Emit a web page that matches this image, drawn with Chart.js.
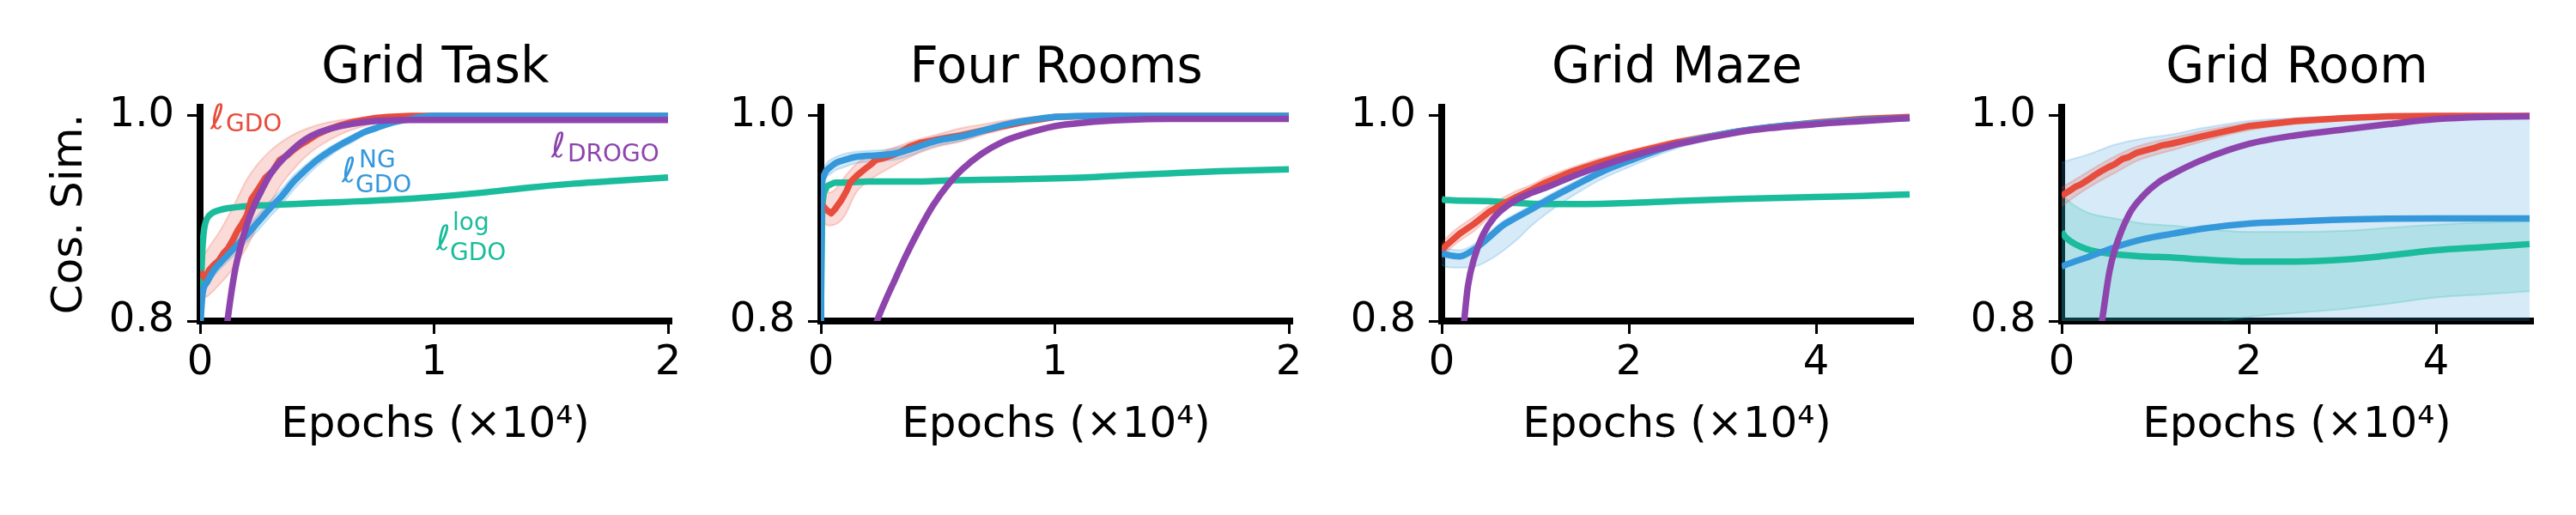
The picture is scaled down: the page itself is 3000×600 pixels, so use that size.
<!DOCTYPE html>
<html><head><meta charset="utf-8">
<script src="https://cdn.jsdelivr.net/npm/chart.js@4/dist/chart.umd.min.js"></script>
<style>
html,body{margin:0;padding:0;background:#fff;width:3000px;height:600px;overflow:hidden}
.p{position:absolute;top:0;width:800px;height:600px}
</style></head><body>
<div class="p" style="left:0px"><canvas id="c0" width="800" height="600"></canvas></div>
<div class="p" style="left:723px"><canvas id="c1" width="800" height="600"></canvas></div>
<div class="p" style="left:1446px"><canvas id="c2" width="800" height="600"></canvas></div>
<div class="p" style="left:2168px"><canvas id="c3" width="800" height="600"></canvas></div>
<script>
// ---------- tick labels ----------
const yTicks = [0.8, 1.0];
const shortXTicks = [0, 1, 2];
const longXTicks = [0, 2, 4];
const titles = ['Grid Task', 'Four Rooms', 'Grid Maze', 'Grid Room'];

// ---------- Grid Task ----------
const gtGdoX = [0, .02, .04, .06, .08, .10, .12, .14, .16, .18, .20, .22, .25, .28, .31, .34, .37, .40, .43, .46, .50, .55, .60, .65, .70, .75, .80, .90, 1.0, 1.2, 1.5, 2.0];
const gtGdoY = [.848, .842, .850, .855, .859, .866, .871, .879, .888, .895, .903, .919, .929, .940, .946, .957, .961, .967, .972, .976, .982, .987, .991, .994, .996, .998, .999, 1.0, 1.0, 1.0, 1.0, 1.0];
const gtGdoBandX = [0, .02, .05, .08, .12, .16, .20, .25, .30, .35, .40, .45, .50, .60, .70, .80, .90, 1.0, 1.2, 2.0];
const gtGdoHi = [.862, .866, .876, .886, .902, .920, .938, .954, .966, .975, .982, .987, .991, .996, .998, .9995, 1.0, 1.0, 1.0, 1.0];
const gtGdoLo = [.826, .823, .828, .835, .845, .858, .872, .895, .915, .934, .948, .960, .969, .982, .990, .995, .998, 1.0, 1.0, 1.0];
const gtNgX = [0, .01, .03, .06, .10, .15, .20, .25, .30, .35, .40, .45, .50, .55, .60, .65, .70, .75, .80, .85, .90, .95, 1.0, 1.2, 2.0];
const gtNgY = [.79, .825, .838, .850, .860, .872, .884, .897, .910, .922, .936, .947, .957, .965, .972, .978, .984, .988, .992, .995, .997, .999, 1.0, 1.0, 1.0];
const gtNgHi = [.80, .830, .843, .856, .866, .878, .891, .904, .917, .929, .942, .952, .961, .969, .975, .981, .986, .990, .993, .996, .998, .9995, 1.0, 1.0, 1.0];
const gtNgLo = [.78, .820, .833, .844, .854, .865, .877, .889, .902, .914, .928, .940, .951, .960, .968, .974, .981, .986, .990, .994, .996, .998, 1.0, 1.0, 1.0];
const gtDrogoX = [.10, .117, .13, .15, .17, .20, .23, .26, .30, .35, .40, .45, .50, .60, .70, .80, .90, 1.0, 1.5, 2.0];
const gtDrogoY = [.77, .80, .822, .850, .870, .894, .912, .926, .943, .957, .968, .977, .983, .990, .994, .9955, .996, .996, .996, .996];
const gtLogX = [0, .005, .01, .015, .02, .03, .05, .08, .12, .2, .3, .4, .6, .8, 1.0, 1.2, 1.4, 1.6, 1.8, 2.0];
const gtLogY = [.80, .84, .870, .885, .893, .900, .905, .908, .910, .912, .913, .914, .916, .918, .921, .925, .930, .934, .937, .940];

// ---------- Four Rooms ----------
const frGdoX = [0, .01, .026, .044, .06, .088, .11, .125, .15, .187, .21, .235, .27, .31, .35, .38, .43, .5, .6, .7, .78, .87, .95, 1.0, 1.2, 2.0];
const frGdoY = [.915, .912, .908, .905, .909, .918, .927, .935, .941, .948, .952, .957, .959, .962, .966, .970, .974, .977, .981, .986, .990, .994, .997, .999, 1.0, 1.0];
const frGdoBandX = [0, .03, .06, .1, .15, .2, .3, .4, .5, .6, .7, .8, .9, 1.0, 1.2, 2.0];
const frGdoHi = [.93, .925, .928, .940, .953, .960, .968, .976, .982, .988, .992, .996, .999, 1.0, 1.0, 1.0];
const frGdoLo = [.90, .893, .894, .902, .925, .936, .950, .962, .970, .975, .982, .988, .994, .998, 1.0, 1.0];
const frNgX = [0, .003, .01, .022, .04, .063, .1, .15, .2, .27, .33, .39, .455, .5, .6, .7, .78, .87, .954, 1.0, 1.2, 2.0];
const frNgY = [.80, .92, .940, .946, .950, .954, .957, .960, .961, .962, .964, .968, .973, .976, .980, .986, .991, .995, .998, .999, 1.0, 1.0];
const frNgHi = [.80, .926, .946, .953, .957, .960, .963, .965, .966, .967, .969, .973, .977, .980, .984, .989, .993, .996, .999, 1.0, 1.0, 1.0];
const frNgLo = [.80, .914, .934, .940, .943, .947, .950, .954, .955, .956, .958, .962, .968, .971, .976, .983, .988, .993, .997, .998, 1.0, 1.0];
const frDrogoX = [.2, .24, .28, .316, .36, .42, .48, .547, .6, .687, .78, .866, 1.0, 1.13, 1.3, 1.49, 1.7, 2.0];
const frDrogoY = [.77, .80, .822, .84, .862, .889, .913, .934, .947, .963, .975, .982, .990, .9935, .996, .997, .997, .997];
const frLogX = [0, .005, .01, .02, .026, .04, .063, .1, .2, .43, .547, .8, 1.13, 1.3, 1.49, 1.7, 2.0];
const frLogY = [.80, .90, .92, .928, .931, .933, .935, .935, .936, .936, .937, .938, .940, .942, .944, .946, .948];

// ---------- Grid Maze ----------
const gmGdoX = [0, .04, .19, .35, .5, .65, .8, .96, 1.11, 1.4, 1.7, 2.0, 2.5, 3.17, 3.5, 4.0, 4.5, 5.0];
const gmGdoY = [.868, .873, .885, .895, .906, .914, .921, .928, .935, .946, .955, .963, .974, .985, .989, .9935, .997, .999];
const gmGdoHi = [.875, .880, .892, .902, .912, .920, .927, .933, .940, .950, .959, .966, .977, .987, .991, .995, .998, 1.0];
const gmGdoLo = [.861, .866, .878, .888, .900, .908, .915, .923, .930, .942, .951, .960, .971, .983, .987, .992, .996, .998];
const gmNgX = [0, .04, .19, .35, .5, .65, .8, .96, 1.11, 1.4, 1.7, 2.0, 2.5, 3.17, 3.5, 4.0, 4.5, 5.0];
const gmNgY = [.866, .865, .863, .870, .881, .893, .901, .909, .917, .931, .945, .956, .972, .985, .989, .993, .996, .998];
const gmNgHi = [.872, .871, .869, .875, .886, .897, .905, .913, .921, .935, .948, .959, .974, .987, .990, .994, .997, .999];
const gmNgLo = [.855, .853, .852, .853, .859, .868, .879, .893, .904, .922, .938, .950, .968, .982, .987, .991, .995, .997];
const gmDrogoX = [.2, .24, .28, .35, .44, .56, .74, .96, 1.11, 1.4, 1.7, 2.0, 2.5, 3.17, 3.5, 4.0, 4.5, 5.0];
const gmDrogoY = [.76, .80, .834, .862, .884, .901, .915, .925, .930, .941, .951, .960, .972, .984, .988, .992, .995, .998];
const gmLogX = [0, .04, .5, .8, 1.11, 1.5, 2.0, 2.5, 3.17, 4.0, 4.5, 5.0];
const gmLogY = [.919, .918, .917, .915, .914, .914, .915, .917, .919, .921, .922, .9235];

// ---------- Grid Room ----------
const grGdoX = [0, .05, .1, .15, .2, .27, .35, .42, .5, .57, .65, .72, .8, .88, 1.0, 1.06, 1.18, 1.5, 2.0, 2.5, 3.04, 3.5, 4.0, 5.0];
const grGdoY = [.922, .925, .928, .931, .933, .937, .942, .946, .950, .953, .958, .960, .964, .966, .969, .971, .973, .980, .990, .995, .998, .9995, 1.0, 1.0];
const grGdoBandX = [0, .2, .4, .6, .8, 1.0, 1.2, 1.5, 2.0, 2.5, 3.0, 3.5, 4.0, 5.0];
const grGdoHi = [.93, .941, .952, .962, .970, .975, .979, .985, .993, .997, .999, 1.0, 1.0, 1.0];
const grGdoLo = [.912, .925, .936, .946, .956, .962, .967, .975, .986, .992, .996, .999, 1.0, 1.0];
const grNgX = [0, .05, .27, .57, .88, 1.18, 1.5, 2.0, 2.5, 3.04, 4.0, 5.0];
const grNgY = [.853, .855, .862, .872, .880, .885, .890, .895, .897, .899, .900, .900];
const grNgHi = [.954, .956, .962, .972, .978, .982, .988, .995, .998, .9995, 1.0, 1.0];
const grNgLo = [.70, .70, .70, .70, .70, .70, .70, .70, .70, .70, .70, .70];
const grLogX = [0, .05, .27, .57, .88, 1.18, 1.5, 2.0, 2.5, 3.04, 3.5, 4.0, 4.5, 5.0];
const grLogY = [.887, .881, .870, .865, .863, .862, .860, .858, .858, .860, .864, .869, .872, .875];
const grLogHi = [.925, .919, .906, .900, .895, .893, .890, .887, .887, .888, .891, .894, .896, .897];
const grLogLo = [.78, .78, .78, .78, .78, .785, .795, .804, .808, .812, .817, .823, .826, .829];
const grDrogoX = [.35, .43, .51, .57, .72, .88, 1.03, 1.18, 1.5, 2.0, 2.5, 3.04, 3.5, 4.0, 4.5, 5.0];
const grDrogoY = [.76, .80, .848, .870, .904, .923, .935, .943, .957, .9726, .981, .987, .992, .9968, .999, .9995];

// ---------- styling ----------
const RED = [231, 76, 60], BLUE = [52, 152, 219], GREEN = [26, 188, 156], PURPLE = [142, 68, 173];
const FONT = '"DejaVu Sans", sans-serif';
const col = (c, a) => `rgba(${c[0]},${c[1]},${c[2]},${a === undefined ? 1 : a})`;
const pts = (xs, ys) => xs.map((x, i) => ({x: x, y: ys[i]}));

function line(xs, ys, c, smooth) {
  return {data: pts(xs, ys), borderColor: col(c), borderWidth: 7.5, pointRadius: 0, fill: false,
    tension: 0, cubicInterpolationMode: smooth ? 'monotone' : 'default', borderJoinStyle: 'round', borderCapStyle: 'butt'};
}
function band(xs, lo, hi, c) {
  return [
    {data: pts(xs, hi), borderColor: col(c, 0.22), borderWidth: 2, pointRadius: 0, fill: '+1',
      backgroundColor: col(c, 0.2), cubicInterpolationMode: 'monotone'},
    {data: pts(xs, lo), borderColor: col(c, 0.22), borderWidth: 2, pointRadius: 0, fill: false,
      cubicInterpolationMode: 'monotone'}
  ];
}

const panelData = [
  [line(gtDrogoX, gtDrogoY, PURPLE, true), line(gtNgX, gtNgY, BLUE, true), line(gtGdoX, gtGdoY, RED, false), line(gtLogX, gtLogY, GREEN, true),
   ...band(gtGdoBandX, gtGdoLo, gtGdoHi, RED), ...band(gtNgX, gtNgLo, gtNgHi, BLUE)],
  [line(frDrogoX, frDrogoY, PURPLE, true), line(frNgX, frNgY, BLUE, true), line(frGdoX, frGdoY, RED, false), line(frLogX, frLogY, GREEN, true),
   ...band(frGdoBandX, frGdoLo, frGdoHi, RED), ...band(frNgX, frNgLo, frNgHi, BLUE)],
  [line(gmDrogoX, gmDrogoY, PURPLE, true), line(gmNgX, gmNgY, BLUE, true), line(gmGdoX, gmGdoY, RED, false), line(gmLogX, gmLogY, GREEN, true),
   ...band(gmGdoX, gmGdoLo, gmGdoHi, RED), ...band(gmNgX, gmNgLo, gmNgHi, BLUE)],
  [line(grDrogoX, grDrogoY, PURPLE, true), line(grNgX, grNgY, BLUE, true), line(grGdoX, grGdoY, RED, false), line(grLogX, grLogY, GREEN, true),
   ...band(grGdoBandX, grGdoLo, grGdoHi, RED), ...band(grNgX, grNgLo, grNgHi, BLUE), ...band(grLogX, grLogLo, grLogHi, GREEN)]
];

// math-style labels for the first panel: [text, x, baseline y, size, italic]
const gridTaskLabels = [
  {c: RED, runs: [['ℓ', 245, 150, 40, true], ['GDO', 263, 153, 28, false]]},
  {c: BLUE, runs: [['ℓ', 398, 212, 40, true], ['NG', 418, 195, 28, false], ['GDO', 414, 224, 28, false]]},
  {c: PURPLE, runs: [['ℓ', 642, 183, 40, true], ['DROGO', 661, 188, 28, false]]},
  {c: GREEN, runs: [['ℓ', 508, 291, 40, true], ['log', 527, 268, 28, false], ['GDO', 524, 303, 28, false]]}
];
const labelPlugin = {
  id: 'mathLabels',
  afterDatasetsDraw(chart, args, opts) {
    if (!opts.items) return;
    const ctx = chart.ctx;
    ctx.save();
    ctx.textBaseline = 'alphabetic';
    ctx.textAlign = 'left';
    for (const it of opts.items) {
      ctx.fillStyle = col(it.c);
      for (const r of it.runs) {
        ctx.font = (r[4] ? 'italic ' : '') + r[3] + 'px ' + FONT;
        ctx.fillText(r[0], r[1], r[2]);
      }
    }
    ctx.restore();
  }
};

const gridOpts = {display: true, drawOnChartArea: false, drawTicks: true, tickLength: 15, lineWidth: 3, tickWidth: 3, color: '#000', tickColor: '#000'};
const borderOpts = {display: true, color: '#000', width: 8};

for (let i = 0; i < 4; i++) {
  const long = i >= 2;
  const xEnd = long ? 5 : 2;
  const xMax = xEnd * 548 / 545;
  const xTicks = long ? longXTicks : shortXTicks;
  new Chart(document.getElementById('c' + i), {
    type: 'line',
    data: {datasets: panelData[i]},
    plugins: [labelPlugin],
    options: {
      responsive: false, animation: false, devicePixelRatio: 1,
      layout: {padding: {left: 0, right: 19, top: 0, bottom: 0}},
      plugins: {
        legend: {display: false}, tooltip: {enabled: false},
        filler: {drawTime: 'beforeDatasetsDraw'},
        title: {display: true, text: titles[i], fullSize: false, color: '#000',
          font: {family: FONT, size: 58, weight: 'normal', lineHeight: 1.2}, padding: {top: 46, bottom: 9.4}},
        mathLabels: {items: i === 0 ? gridTaskLabels : null}
      },
      scales: {
        x: {
          type: 'linear', min: 0, max: xMax,
          afterBuildTicks: s => { s.ticks = xTicks.map(v => ({value: v})); },
          afterFit: s => { s.height = 226; },
          ticks: {autoSkip: false, maxRotation: 0, minRotation: 0, color: '#000', padding: 6,
            font: {family: FONT, size: 48, lineHeight: 1.2}, callback: v => String(v)},
          grid: gridOpts, border: borderOpts,
          title: {display: true, text: 'Epochs (×10⁴)', color: '#000',
            font: {family: FONT, size: 50, lineHeight: 1.2}, padding: {top: 0, bottom: 74}}
        },
        y: {
          type: 'linear', min: 0.8, max: 1 + 10 / 1195,
          afterBuildTicks: s => { s.ticks = yTicks.map(v => ({value: v})); },
          afterFit: s => { s.width = 233; },
          ticks: {autoSkip: false, color: '#000', padding: 15,
            font: {family: FONT, size: 48, lineHeight: 1.2}, callback: v => Number(v).toFixed(1)},
          grid: gridOpts, border: borderOpts,
          title: {display: i === 0, text: 'Cos. Sim.', color: '#000',
            font: {family: FONT, size: 50, lineHeight: 1.2}, padding: {top: 52, bottom: 0}}
        }
      }
    }
  });
}
</script>
</body></html>
